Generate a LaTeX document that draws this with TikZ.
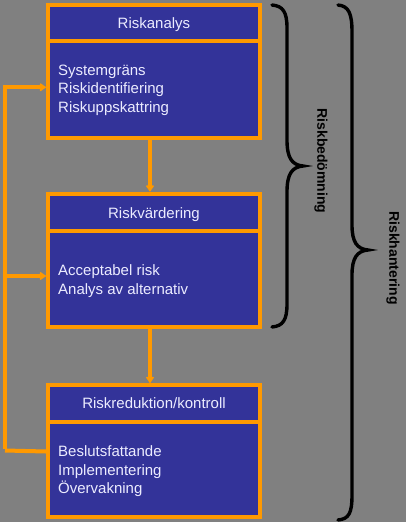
\documentclass[tikz,border=0pt]{standalone}
\usepackage{fontspec}
\setmainfont{Liberation Sans}
\usetikzlibrary{arrows.meta}
\definecolor{bg}{HTML}{808080}
\definecolor{orng}{HTML}{FF9900}
\definecolor{boxblue}{HTML}{333399}
\definecolor{txt}{HTML}{ECECFF}
\tikzset{
  riskbox/.style={draw=orng, fill=boxblue, line width=4pt, minimum width=212pt, inner sep=0pt, outer sep=2pt, anchor=north west},
  headtext/.style={text=txt, font=\fontsize{15}{18.5}\selectfont, inner sep=0pt, anchor=base},
  bodytext/.style={text=txt, font=\fontsize{15}{18.5}\selectfont, inner sep=0pt, align=left, anchor=west},
  conn/.style={draw=orng, line width=4pt, -{Latex[length=7pt,width=10pt,round]}},
  conn0/.style={draw=orng, line width=4pt},
  brace/.style={draw=black, line width=3.4pt, line cap=round},
  bracelabel/.style={font=\bfseries\fontsize{14}{16}\selectfont, text=black, rotate=-90, inner sep=0pt}
}
\begin{document}
\begin{tikzpicture}[x=1pt,y=-1pt]
\fill[bg] (0,0) rectangle (406,522);
\useasboundingbox (0,0) rectangle (406,522);

% boxes (outer sep 2pt: anchors sit on the outer edge of the border)
\node[riskbox, minimum height=132.5pt] (b1) at (46,3) {};
\node[riskbox, minimum height=133.5pt] (b2) at (46,191.5) {};
\node[riskbox, minimum height=132pt] (b3) at (46,383) {};
\draw[conn0] ([xshift=2pt]b1.west |- 0,41) -- ([xshift=-2pt]b1.east |- 0,41);
\draw[conn0] ([xshift=2pt]b2.west |- 0,231) -- ([xshift=-2pt]b2.east |- 0,231);
\draw[conn0] ([xshift=2pt]b3.west |- 0,422) -- ([xshift=-2pt]b3.east |- 0,422);

% texts
\node[headtext] (h1) at (154,28.5) {Riskanalys};
\node[headtext] (h2) at (154,218.5) {Riskvärdering};
\node[headtext] (h3) at (154,408.5) {Riskreduktion/kontroll};
\node[bodytext] (t1) at (58,90.2) {Systemgräns\\Riskidentifiering\\Riskuppskattring};
\node[bodytext] (t2) at (58,281) {Acceptabel risk\\Analys av alternativ};
\node[bodytext] (t3) at (58,471.2) {Beslutsfattande\\Implementering\\Övervakning};

% connectors
\draw[conn] ([xshift=-4pt]b1.south) -- ([xshift=-4pt]b2.north);
\draw[conn] ([xshift=-4pt]b2.south) -- ([xshift=-4pt]b3.north);
\coordinate (fb) at (5,450.5);
\coordinate (fb2) at (5,276);
\draw[conn0] ([yshift=-0.5pt]b3.west) -- (fb);
\draw[conn, line join=miter] ([yshift=2pt]fb) |- ([yshift=-16pt]b1.west);
\draw[conn] (fb2) -- ([yshift=-15.75pt]b2.west);

% braces
\draw[brace] (272,5) .. controls (283,6) and (287,12) .. (287,28)
  -- (287,140) .. controls (287,158) and (292,165) .. (303,166)
  .. controls (292,167) and (287,174) .. (287,192)
  -- (287,304) .. controls (287,320) and (283,326) .. (272,327);
\draw[brace] (338,5) .. controls (349,6) and (352,14) .. (352,32)
  -- (352,225) .. controls (352,242) and (357,249) .. (368,250)
  .. controls (357,251) and (352,258) .. (352,275)
  -- (352,495) .. controls (352,513) and (349,519) .. (338,520);
\node[bracelabel] (l1) at (321,161) {Riskbedömning};
\node[bracelabel] (l2) at (393,258) {Riskhantering};
\end{tikzpicture}
\end{document}
